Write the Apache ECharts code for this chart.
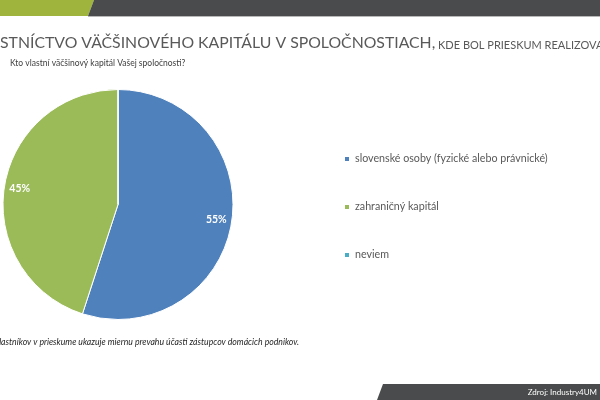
<!DOCTYPE html>
<html>
<head>
<meta charset="utf-8">
<script src="https://cdn.jsdelivr.net/npm/echarts@6/dist/echarts.min.js"></script>
<style>html,body{margin:0;padding:0;background:#fff;}#c{width:600px;height:400px;}</style>
</head>
<body>
<div id="c"></div>
<script>
const categories = ['slovenské osoby (fyzické alebo právnické)', 'zahraničný kapitál', 'neviem'];
const values = [55, 45, 0];
const colors = ['#4f81bd', '#9bbb59', '#4bacc6'];

const FONT = 'Lato, "Open Sans", sans-serif';
const chart = echarts.init(document.getElementById('c'), null, {renderer: 'canvas'});
const data = categories.map((c, i) => ({name: c, value: values[i], itemStyle: {color: colors[i]}}));

chart.setOption({
  animation: false,
  backgroundColor: '#fff',
  color: colors,
  legend: {
    orient: 'vertical',
    left: 338,
    top: 147,
    icon: 'rect',
    itemWidth: 6,
    itemHeight: 6,
    itemGap: 34,
    data: categories,
    textStyle: {color: '#595959', fontSize: 10.7, fontFamily: FONT, lineHeight: 14}
  },
  graphic: [
    {type: 'polygon', shape: {points: [[0,0],[94,0],[88,16],[0,16]]}, style: {fill: '#9fb43c'}},
    {type: 'polygon', shape: {points: [[94,0],[600,0],[600,16],[88,16]]}, style: {fill: '#4a4b4d'}},
    {type: 'rect', shape: {x: 88, y: 16, width: 512, height: 1}, style: {fill: '#b8b8b8'}},
    {type: 'polygon', shape: {points: [[383,384],[600,384],[600,400],[377,400]]}, style: {fill: '#4a4b4d'}},
    {type: 'text', right: 3, top: 388, style: {text: 'Zdroj: Industry4UM', fill: '#ffffff', font: '8px ' + FONT}},
    {type: 'text', x: 0, y: 51, style: {text: 'VLA', fill: '#595959', font: '15.8px ' + FONT, align: 'right', verticalAlign: 'bottom'}},
    {type: 'text', x: 0, y: 51, style: {
      text: '{a|STNÍCTVO VÄČŠINOVÉHO KAPITÁLU V SPOLOČNOSTIACH,}{b| KDE BOL PRIESKUM REALIZOVANÝ}',
      align: 'left', verticalAlign: 'bottom',
      rich: {
        a: {fontSize: 15.8, fill: '#595959', fontFamily: FONT, verticalAlign: 'bottom'},
        b: {fontSize: 11, fill: '#595959', fontFamily: FONT, verticalAlign: 'bottom'}
      }
    }},
    {type: 'text', left: 10, top: 59, style: {text: 'Kto vlastní väčšinový kapitál Vašej spoločnosti?', fill: '#404040', font: '8.5px ' + FONT}},
    {type: 'text', left: -5, top: 338, style: {text: 'vlastníkov v prieskume ukazuje miernu prevahu účasti zástupcov domácich podnikov.', fill: '#262626', font: 'italic 8.7px ' + FONT}}
  ],
  series: [
    {
      type: 'pie',
      center: [118, 204.5],
      radius: [0, 115],
      startAngle: 90,
      clockwise: true,
      avoidLabelOverlap: false,
      silent: true,
      label: {show: false},
      itemStyle: {borderColor: '#ffffff', borderWidth: 1},
      data: data
    },
    {
      type: 'pie',
      center: [118, 204.5],
      radius: [78, 115],
      startAngle: 90,
      clockwise: true,
      silent: true,
      avoidLabelOverlap: false,
      itemStyle: {color: 'rgba(0,0,0,0)'},
      label: {
        show: true, position: 'inside',
        formatter: p => p.value > 0 ? p.value + '%' : '',
        color: '#ffffff', fontSize: 10.5, fontWeight: 'bold', fontFamily: FONT
      },
      labelLine: {show: false},
      data: categories.map((c, i) => ({name: c, value: values[i], itemStyle: {color: 'rgba(0,0,0,0)'}}))
    }
  ]
});
</script>
</body>
</html>
